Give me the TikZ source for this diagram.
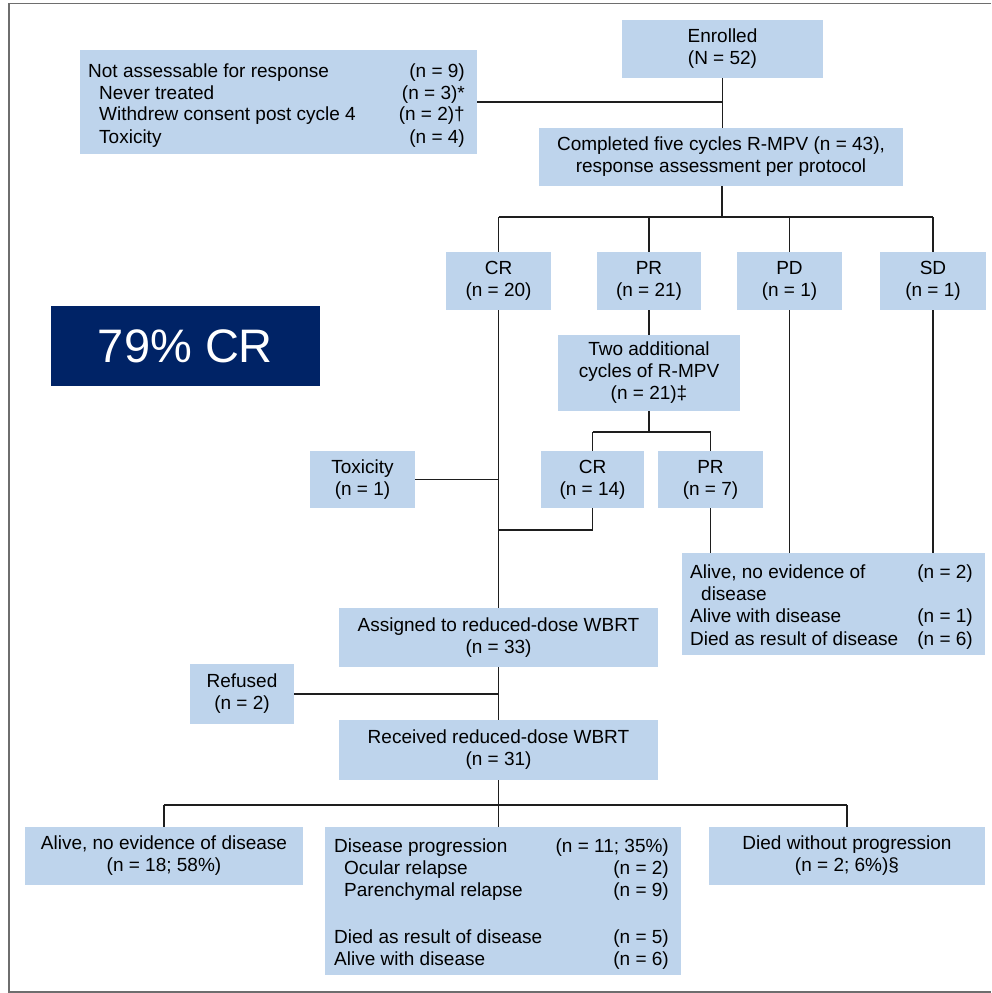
\documentclass[tikz,border=0pt]{standalone}
\usepackage{fontspec}
\setmainfont{Liberation Sans}
\definecolor{boxblue}{RGB}{190,212,236}
\definecolor{navy}{RGB}{0,35,102}
\definecolor{linec}{RGB}{30,30,30}
\definecolor{framec}{RGB}{110,110,110}
\newcommand\fs{\fontsize{19}{22}\selectfont}
\begin{document}
\begin{tikzpicture}[x=1pt,y=-1pt,
  box/.style={fill=boxblue, inner sep=0pt, align=center, font=\fs},
  conn/.style={draw=linec, line width=1.8pt},
  lt/.style={inner sep=0pt, font=\fs, anchor=base west},
  rt/.style={inner sep=0pt, font=\fs, anchor=base east}]
\useasboundingbox (0,0) rectangle (991,993);
% frame
\draw[framec, line width=1.5pt] (991,3.5) -- (9,3.5) -- (9,992) -- (991,992);

% boxes
\node[box, minimum width=201pt, minimum height=58pt] (enrolled) at (722.5,49) {Enrolled\\(N = 52)};
\node[box, minimum width=397pt, minimum height=104pt] (notassess) at (278.5,102) {};
\node[box, minimum width=364pt, minimum height=58pt] (completed) at (721,157) {Completed five cycles R-MPV (n = 43),\\response assessment per protocol};
\node[box, minimum width=105pt, minimum height=58pt] (cr) at (498.5,281) {CR\\(n = 20)};
\node[box, minimum width=104pt, minimum height=58pt] (pr) at (649,281) {PR\\(n = 21)};
\node[box, minimum width=105pt, minimum height=58pt] (pd) at (789.5,281) {PD\\(n = 1)};
\node[box, minimum width=106pt, minimum height=58pt] (sd) at (933,281) {SD\\(n = 1)};
\node[box, minimum width=182pt, minimum height=76pt] (twoadd) at (649,373) {Two additional\\cycles of R-MPV\\(n = 21)‡};
\node[box, minimum width=105pt, minimum height=57pt] (tox) at (362.5,479.5) {Toxicity\\(n = 1)};
\node[box, minimum width=103pt, minimum height=57pt] (cr14) at (592.5,479.5) {CR\\(n = 14)};
\node[box, minimum width=105pt, minimum height=57pt] (pr7) at (710.5,479.5) {PR\\(n = 7)};
\node[box, minimum width=303pt, minimum height=102pt] (aliveR) at (833.5,604) {};
\node[box, minimum width=319pt, minimum height=59pt] (assigned) at (498.5,637.5) {Assigned to reduced-dose WBRT\\(n = 33)};
\node[box, minimum width=104pt, minimum height=60pt] (refused) at (242,694) {Refused\\(n = 2)};
\node[box, minimum width=319pt, minimum height=60pt] (received) at (498.5,750) {Received reduced-dose WBRT\\(n = 31)};
\node[box, minimum width=278pt, minimum height=58pt] (aliveB) at (164,856) {Alive, no evidence of disease\\(n = 18; 58\%)};
\node[box, minimum width=356pt, minimum height=148pt] (progress) at (503,901) {};
\node[box, minimum width=276pt, minimum height=58pt] (died) at (847,856) {Died without progression\\(n = 2; 6\%)§};
\node[fill=navy, text=white, inner sep=0pt, minimum width=269pt, minimum height=80pt, font=\fontsize{47}{50}\selectfont] (crbig) at (185.5,346) {79\% CR};

% texts of multi-column boxes
\node[lt] (na1) at (88,77) {Not assessable for response};
\node[rt] (na1r) at (465,77) {(n = 9)};
\node[lt] (na2) at (99,99) {Never treated};
\node[rt] (na2r) at (465,99) {(n = 3)*};
\node[lt] (na3) at (99,120) {Withdrew consent post cycle 4};
\node[rt] (na3r) at (465,120) {(n = 2)†};
\node[lt] (na4) at (99,143) {Toxicity};
\node[rt] (na4r) at (465,143) {(n = 4)};

\node[lt] (ar1) at (690,578) {Alive, no evidence of};
\node[rt] (ar1r) at (973,578) {(n = 2)};
\node[lt] (ar2) at (701,600) {disease};
\node[lt] (ar3) at (690,622) {Alive with disease};
\node[rt] (ar3r) at (973,622) {(n = 1)};
\node[lt] (ar4) at (690,645) {Died as result of disease};
\node[rt] (ar4r) at (973,645) {(n = 6)};

\node[lt] (dp1) at (334,852) {Disease progression};
\node[rt] (dp1r) at (669,852) {(n = 11; 35\%)};
\node[lt] (dp2) at (344,874) {Ocular relapse};
\node[rt] (dp2r) at (669,874) {(n = 2)};
\node[lt] (dp3) at (344,896) {Parenchymal relapse};
\node[rt] (dp3r) at (669,896) {(n = 9)};
\node[lt] (dp4) at (334,943) {Died as result of disease};
\node[rt] (dp4r) at (669,943) {(n = 5)};
\node[lt] (dp5) at (334,965) {Alive with disease};
\node[rt] (dp5r) at (669,965) {(n = 6)};

% connectors
\draw[conn] (enrolled.south) -- (enrolled.south |- completed.north);
\draw[conn] (notassess.east) -- (notassess.east -| enrolled.south);
\coordinate (j1) at (722,217);
\draw[conn] (completed.south -| j1) -- (j1);
\draw[conn] (cr.north |- j1) -- (sd.north |- j1);
\draw[conn] (cr.north |- j1) -- (cr.north);
\draw[conn] (pr.north |- j1) -- (pr.north);
\draw[conn] (pd.north |- j1) -- (pd.north);
\draw[conn] (sd.north |- j1) -- (sd.north);
\draw[conn] (pr.south) -- (twoadd.north);
\coordinate (j2) at (649,432);
\draw[conn] (twoadd.south) -- (j2);
\draw[conn] (cr14.north |- j2) -- (pr7.north |- j2);
\draw[conn] (cr14.north |- j2) -- (cr14.north);
\draw[conn] (pr7.north |- j2) -- (pr7.north);
\draw[conn] (cr.south) -- (cr.south |- assigned.north);
\draw[conn] (tox.east) -- (tox.east -| cr.south);
\coordinate (j3) at (592.5,530);
\draw[conn] (cr14.south) -- (j3) -- (j3 -| cr.south);
\draw[conn] (pr7.south) -- (pr7.south |- aliveR.north);
\draw[conn] (pd.south) -- (pd.south |- aliveR.north);
\draw[conn] (sd.south) -- (sd.south |- aliveR.north);
\draw[conn] (assigned.south) -- (received.north);
\draw[conn] (refused.east) -- (refused.east -| assigned.south);
\coordinate (j4) at (498.5,805);
\draw[conn] (received.south) -- (received.south |- progress.north);
\draw[conn] (aliveB.north |- j4) -- (died.north |- j4);
\draw[conn] (aliveB.north |- j4) -- (aliveB.north);
\draw[conn] (died.north |- j4) -- (died.north);
\end{tikzpicture}
\end{document}
